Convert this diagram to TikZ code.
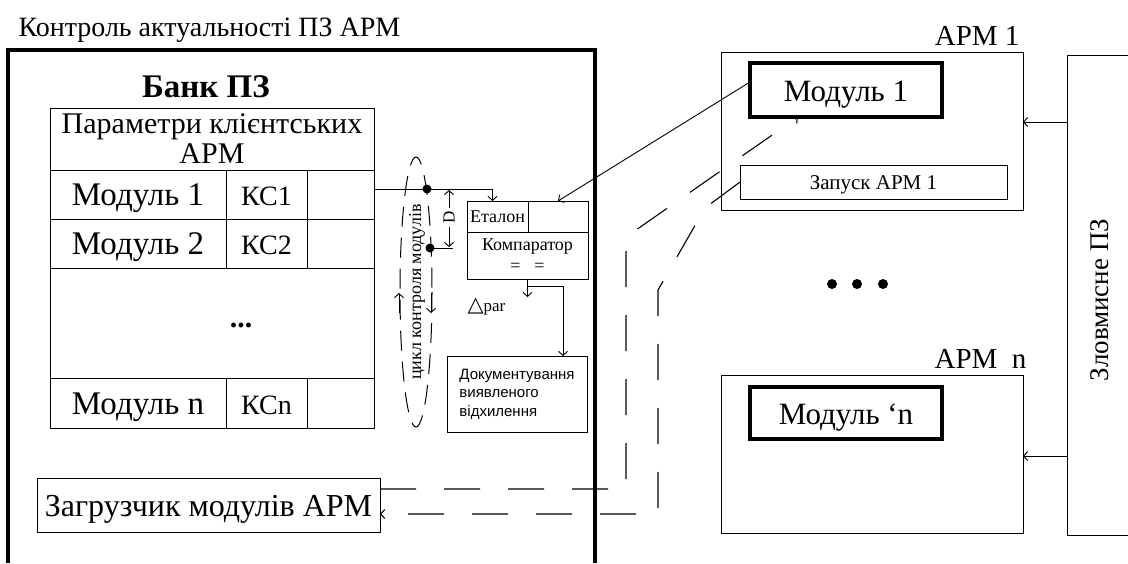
\documentclass[tikz,border=0pt]{standalone}
\usepackage{fontspec}
\setmainfont{Liberation Serif}
\setsansfont{Liberation Sans}
\newfontfamily\symf{DejaVu Sans}
\usetikzlibrary{arrows.meta}
\newcommand\myfs[2]{\fontsize{#1}{#2}\selectfont}
\begin{document}
\begin{tikzpicture}[x=1pt,y=-1pt,
  >={Straight Barb[length=4pt,width=9pt]},
  thinln/.style={line width=0.9pt},
  bx/.style={draw,line width=0.9pt,inner sep=0pt,outer sep=0pt,anchor=north west},
  thickbx/.style={bx,line width=4.5pt},
  dsh/.style={line width=1.1pt,dash pattern=on 36pt off 28pt},
  dotn/.style={circle,fill,inner sep=0pt,minimum size=9pt},
  fixh/.style={text height=24pt,text depth=2pt},
  modt/.style={font=\myfs{33}{36},fixh},
  kst/.style={font=\myfs{28}{31},fixh},
]
\useasboundingbox (0,0) rectangle (1128,563);

% title and bank frame
\node[anchor=base west,font=\myfs{28}{32}] (title) at (15,36) {Контроль актуальності ПЗ АРМ};
\draw[line width=4pt] (8,563) -- (8,50) -- (595,50) -- (595,563);
\node[font=\bfseries\myfs{33}{36}] (bank) at (206,87) {Банк ПЗ};

% table
\node[bx,minimum width=324,minimum height=62,align=center,font=\myfs{30}{30}] (hdr) at (50,108) {Параметри клієнтських\\АРМ};
\node[bx,minimum width=176,minimum height=49,modt] (c11) at (50,170) {Модуль 1};
\node[bx,minimum width=81,minimum height=49,kst] (c12) at (226,170) {КС1};
\node[bx,minimum width=67,minimum height=49] (c13) at (307,170) {};
\node[bx,minimum width=176,minimum height=49,modt] (c21) at (50,219) {Модуль 2};
\node[bx,minimum width=81,minimum height=49,kst] (c22) at (226,219) {КС2};
\node[bx,minimum width=67,minimum height=49] (c23) at (307,219) {};
\node[bx,minimum width=324,minimum height=110] (mid) at (50,268) {};
\node[anchor=base,font=\bfseries\myfs{30}{30}] (ell) at (241,327) {...};
\node[bx,minimum width=176,minimum height=50,modt] (cn1) at (50,378) {Модуль n};
\node[bx,minimum width=81,minimum height=50,kst] (cn2) at (226,378) {КСn};
\node[bx,minimum width=67,minimum height=50] (cn3) at (307,378) {};

% control cycle
\draw[line width=1pt,dash pattern=on 20pt off 11pt] (416,292) ellipse [x radius=16, y radius=135];
\node[rotate=90,font=\myfs{18}{20}] (cyc) at (417,292) {цикл контроля модулів};
\coordinate (upa) at (399,313); \coordinate (upb) at (399,293);
\draw[->,thinln] (upa) -- (upb);
\coordinate (dna) at (431,293); \coordinate (dnb) at (431,313);
\draw[->,thinln] (dna) -- (dnb);
\node[dotn] (p1) at (427,189) {};
\node[dotn] (p2) at (430,248) {};

% etalon / comparator
\node[bx,minimum width=61,minimum height=31,font=\myfs{18}{20}] (etl) at (467,201) {Еталон};
\node[bx,minimum width=60,minimum height=31] (etr) at (528,201) {};
\node[bx,minimum width=121,minimum height=47,align=center,font=\myfs{18}{21}] (comp) at (467,232) {Компаратор\\=\hspace{14pt}=};
\draw[->,thinln] ([yshift=5pt]c13.east) -| ([xshift=-5pt]etl.north);

% D dimension
\coordinate (dend) at (453,248);
\draw[thinln] (p2.center) -- (dend);
\coordinate (d1a) at (449,208); \coordinate (d1b) at (449,190);
\coordinate (d2a) at (449,227); \coordinate (d2b) at (449,247);
\draw[->,thinln] (d1a) -- (d1b);
\draw[->,thinln] (d2a) -- (d2b);
\node[rotate=90,font=\myfs{17}{18}] (dlab) at (449,217) {D};

% documentation
\node[bx,minimum width=140,minimum height=76,align=left,font=\sffamily\myfs{15}{18.5}] (doc) at (447,356) {Документування\\виявленого\\відхилення};
\coordinate (dp) at ([yshift=-18pt]comp.south);
\draw[->,thinln] (comp.south) -- (dp);
\draw[->,thinln] ([yshift=-7pt]comp.south) -| ([xshift=46pt]doc.north);
\node[anchor=base west,font=\myfs{17}{18}] (dpar) at (464,311) {{\symf\myfs{21}{22}△}par};

% loader
\node[bx,minimum width=343,minimum height=54,font=\myfs{32}{34},fixh] (zag) at (37,478) {Загрузчик модулів АРМ};

% APM 1
\node[bx,minimum width=302,minimum height=158] (apm1) at (721,52) {};
\node[anchor=base east,font=\myfs{29}{30}] (apm1l) at (1023,45) {АРМ 1};
\node[thickbx,minimum width=192,minimum height=54,font=\myfs{31}{33},fixh] (m1) at (750,63) {Модуль 1};
\node[bx,minimum width=267,minimum height=34,font=\myfs{21}{23},text height=15pt,text depth=1pt] (zap) at (740,165) {Запуск АРМ 1};
\draw[->,thinln] ([yshift=8pt]m1.west) -- (etr.north);

% dots
\node[dotn,minimum size=10pt] (e1) at (832,284) {};
\node[dotn,minimum size=10pt] (e2) at (857,284) {};
\node[dotn,minimum size=10pt] (e3) at (883,284) {};

% APM n
\node[bx,minimum width=302,minimum height=158] (apmn) at (721,375) {};
\node[anchor=base east,font=\myfs{29}{30}] (apmnl) at (1030,368) {АРМ\ \ n};
\node[thickbx,minimum width=192,minimum height=52,font=\myfs{31}{33},fixh] (mn) at (750,387) {Модуль `n};

% malicious software
\node[bx,minimum width=80,minimum height=480] (mal) at (1067,55) {};
\node[rotate=90,font=\myfs{27}{28}] (malt) at (1100,300) {Зловмисне ПЗ};
\coordinate (ya) at (0,122); \coordinate (yb) at (0,456);
\draw[->,thinln] (mal.west |- ya) -- (apm1.east |- ya);
\draw[->,thinln] (mal.west |- yb) -- (apmn.east |- yb);

% dashed connectors
\draw[dsh,->] ([yshift=16pt]zag.east) -- (626,489) -- (626,237) -- ([xshift=-48pt]m1.south);
\draw[dsh,->] (zap.west) -- (705,208) -- (658,290) -- (658,514) -- ([yshift=-9pt]zag.east);
\end{tikzpicture}
\end{document}
